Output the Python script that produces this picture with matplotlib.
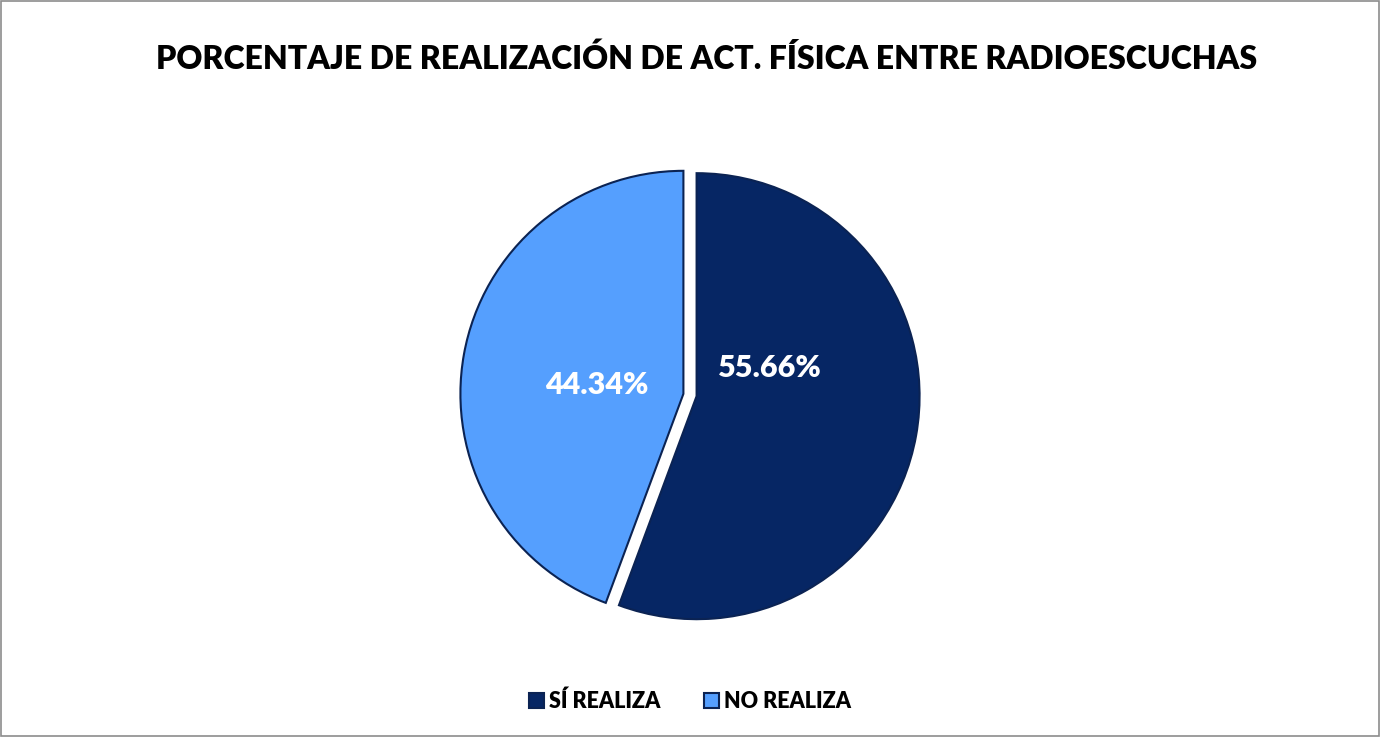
import matplotlib
matplotlib.use("Agg")
import matplotlib.pyplot as plt
from matplotlib.patches import Rectangle

plt.rcParams['font.family'] = ['Lato', 'DejaVu Sans']

categories = ["SÍ REALIZA", "NO REALIZA"]
values = [55.66, 44.34]
colors = ["#062664", "#559ffe"]
title = "PORCENTAJE DE REALIZACIÓN DE ACT. FÍSICA ENTRE RADIOESCUCHAS"

fig = plt.figure(figsize=(13.8, 7.37), dpi=100)
fig.patch.set_facecolor("white")
fig.add_artist(Rectangle((0.001, 0.002), 0.998, 0.996, transform=fig.transFigure,
                         fill=False, edgecolor="#8c8c8c", linewidth=1.2))

# pie axes: radius ~223 px, centre ~ (690, 395)
ax = fig.add_axes([(690 - 240) / 1380, 1 - (395 + 240) / 737, 480 / 1380, 480 / 737])
wedges, texts, autotexts = ax.pie(
    values, colors=colors, startangle=90, counterclock=False,
    explode=[0.03, 0.03], radius=1.0, autopct="%.2f%%", labeldistance=None,
    wedgeprops=dict(edgecolor="#0b2353", linewidth=1.5))
ax.set_xlim(-240 / 223, 240 / 223)
ax.set_ylim(-240 / 223, 240 / 223)
ax.set_aspect("equal")

# label placement as in the original
autotexts[0].set_position((80 / 223, 27 / 223))
autotexts[1].set_position((-93 / 223, 10 / 223))
for t in autotexts:
    t.set_color("white")
    t.set_fontsize(22)
    t.set_fontweight("heavy")

fig.text(0.512, 1 - 59 / 737, title, ha="center", va="center",
         fontsize=23, fontweight="heavy", color="black")

leg = fig.legend(wedges, categories, loc="center", bbox_to_anchor=(0.5, 1 - 701 / 737),
                 ncol=2, frameon=False, fontsize=15.5, handlelength=0.7, handleheight=0.7,
                 handletextpad=0.25, columnspacing=2.0)
for t in leg.get_texts():
    t.set_fontweight("heavy")

fig.savefig("out.png", dpi=100, facecolor="white")
